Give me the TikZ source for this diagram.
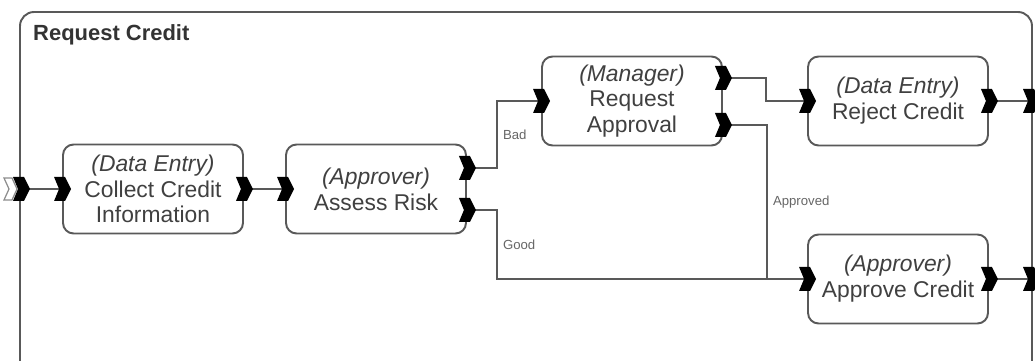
\documentclass[tikz,border=0pt]{standalone}
\usepackage{fontspec}
\setmainfont{Liberation Sans}
\usetikzlibrary{calc}

\begin{document}
\begin{tikzpicture}[
x=0.02cm, y=-0.02cm,
task/.style={rectangle, rounded corners=6pt, draw=black!65, fill=white, line width=1.1pt, minimum width=3.6cm, minimum height=1.78cm, align=center, text=black!75, font=\fontsize{13}{14.7}\selectfont},
flow/.style={draw=black!65, line width=0.9pt},
cond/.style={text=black!60, font=\fontsize{7.5}{9}\selectfont, right, inner sep=3pt},
chevron/.pic={\fill[black] (-8,-12) -- (3,-12) -- (9,0) -- (3,12) -- (-8,12) -- (-3,0) -- cycle;},
ghost/.pic={\draw[black!45, fill=white, line width=0.7pt] (-7,-11) -- (1,-11) -- (6,0) -- (1,11) -- (-7,11) -- (-2,0) -- cycle;}
]
\useasboundingbox (0,0) rectangle (1035,361);
\clip (0,0) rectangle (1035,361);
%Frame
\draw[black!65, line width=1.1pt, rounded corners=8pt] (20,400) -- (20,12) -- (1032,12) -- (1032,400);
\node[anchor=west, text=black!80, font=\bfseries\fontsize{12.5}{15}\selectfont] (title) at (27,35) {Request Credit};
%Nodes
\node[task] (collect) at (153,189) {\textit{(Data Entry)}\\Collect Credit\\Information};
\node[task] (assess)  at (376,189) {\textit{(Approver)}\\Assess Risk};
\node[task] (request) at (632,101) {\textit{(Manager)}\\Request\\Approval};
\node[task] (reject)  at (898,101) {\textit{(Data Entry)}\\Reject Credit};
\node[task] (approve) at (898,279) {\textit{(Approver)}\\Approve Credit};
%Ports
\coordinate (start)      at (21,189);
\coordinate (endreject)  at (1031,101);
\coordinate (endapprove) at (1031,279);
\coordinate (riskbad)    at ($(assess.east)+(0,-21)$);
\coordinate (riskgood)   at ($(assess.east)+(0,21)$);
\coordinate (mgrno)      at ($(request.east)+(0,-23)$);
\coordinate (mgryes)     at ($(request.east)+(0,24)$);
%Lines
\draw[flow] (start) -- (collect.west);
\draw[flow] (collect.east) -- (assess.west);
\draw[flow] (riskbad) -- ++(30,0) |- (request.west) node[cond, pos=0.25] {Bad};
\draw[flow] (riskgood) -- ++(30,0) |- (approve.west) node[cond, pos=0.25] {Good};
\draw[flow] (mgrno) -- ++(43,0) |- (reject.west);
\draw[flow] (mgryes) -- ++(44,0) |- (approve.west) node[cond, pos=0.25] {Approved};
\draw[flow] (reject.east) -- (endreject);
\draw[flow] (approve.east) -- (endapprove);
%Chevrons
\pic at ($(start)+(-10,0)$) {ghost};
\foreach \p in {start, collect.west, collect.east, assess.west, riskbad, riskgood, request.west, mgrno, mgryes, reject.west, reject.east, approve.west, approve.east, endreject, endapprove}
  \pic at (\p) {chevron};
\end{tikzpicture}
\end{document}
